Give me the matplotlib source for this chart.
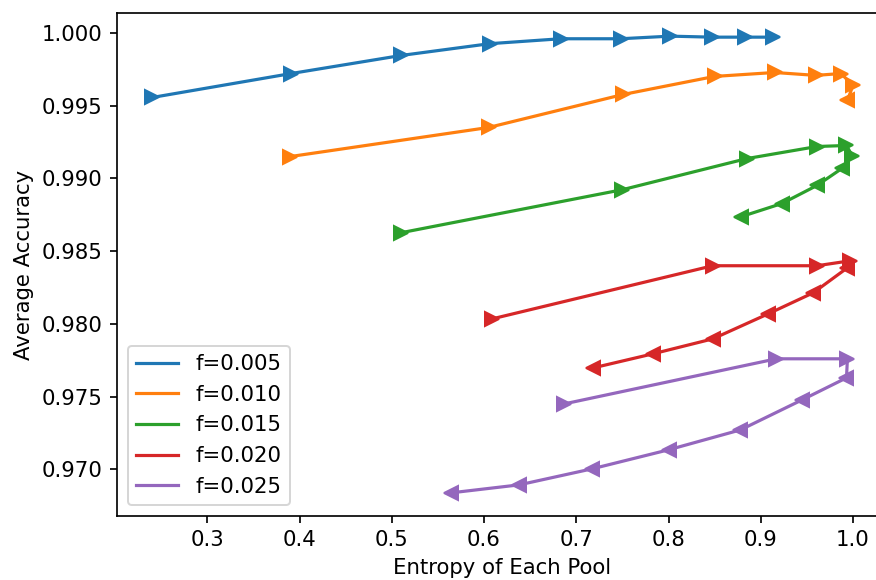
import matplotlib
matplotlib.use("Agg")
import matplotlib.pyplot as plt
import numpy as np

s = 1.06
plt.rcParams.update({
    "font.size": 10 * s,
    "lines.linewidth": 1.5 * s,
    "axes.linewidth": 0.8 * s,
    "xtick.major.size": 3.5 * s,
    "ytick.major.size": 3.5 * s,
    "xtick.major.width": 0.8 * s,
    "ytick.major.width": 0.8 * s,
    "legend.fontsize": 10 * s,
})

labels = ["f=0.005", "f=0.010", "f=0.015", "f=0.020", "f=0.025"]

x_005 = [0.240, 0.391, 0.510, 0.606, 0.683, 0.748, 0.802, 0.847, 0.883, 0.913]
y_005 = [0.99557, 0.99722, 0.99846, 0.99927, 0.99961, 0.99961, 0.99979, 0.99972, 0.99972, 0.99972]

x_010 = [0.390, 0.605, 0.751, 0.850, 0.915, 0.960, 0.987, 1.000, 0.994]
y_010 = [0.99151, 0.99351, 0.99578, 0.99702, 0.99729, 0.99709, 0.99722, 0.99640, 0.99537]

x_015 = [0.510, 0.750, 0.885, 0.961, 0.993, 0.999, 0.988, 0.961, 0.923, 0.879]
y_015 = [0.98627, 0.98923, 0.99137, 0.99220, 0.99227, 0.99158, 0.99069, 0.98952, 0.98828, 0.98738]

x_020 = [0.609, 0.848, 0.961, 0.997, 0.994, 0.957, 0.908, 0.848, 0.783, 0.718]
y_020 = [0.98035, 0.98400, 0.98400, 0.98434, 0.98386, 0.98214, 0.98069, 0.97897, 0.97794, 0.97697]

x_025 = [0.687, 0.917, 0.994, 0.993, 0.945, 0.878, 0.800, 0.717, 0.638, 0.564]
y_025 = [0.97450, 0.97760, 0.97760, 0.97629, 0.97478, 0.97271, 0.97134, 0.97003, 0.96893, 0.96838]

series = [(x_005, y_005), (x_010, y_010), (x_015, y_015), (x_020, y_020), (x_025, y_025)]
colors = ["#1f77b4", "#ff7f0e", "#2ca02c", "#d62728", "#9467bd"]

fig = plt.figure(figsize=(876 / 144, 580 / 144), dpi=144)
ax = fig.add_axes([117 / 876, (580 - 515.7) / 580, (888 - 117) / 876, (515.7 - 13.3) / 580])

for (xs, ys), c, lab in zip(series, colors, labels):
    xs = np.asarray(xs)
    ys = np.asarray(ys)
    ax.plot(xs, ys, color=c, label=lab)
    for i in range(len(xs)):
        if i == 0:
            d = xs[1] - xs[0]
        else:
            d = xs[i] - xs[i - 1]
        m = ">" if d >= 0 else "<"
        ax.plot([xs[i]], [ys[i]], linestyle="none", marker=m, color=c, markersize=7.4)

ax.set_xlabel("Entropy of Each Pool")
ax.set_ylabel("Average Accuracy")
ax.set_xticks([0.3, 0.4, 0.5, 0.6, 0.7, 0.8, 0.9, 1.0])
ax.set_yticks([0.970, 0.975, 0.980, 0.985, 0.990, 0.995, 1.000])
ax.set_yticklabels(["0.970", "0.975", "0.980", "0.985", "0.990", "0.995", "1.000"])
ax.legend(loc="lower left")

fig.savefig("out.png", dpi=144)
